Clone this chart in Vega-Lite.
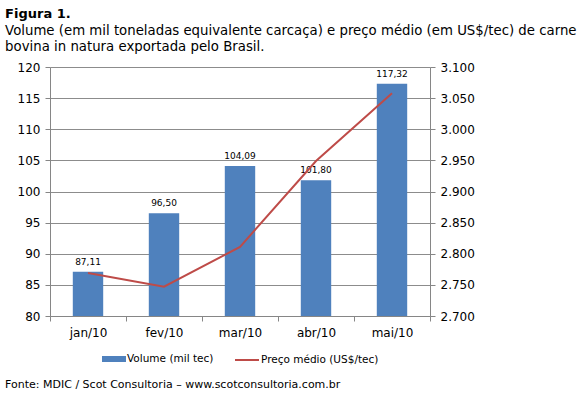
{
  "$schema": "https://vega.github.io/schema/vega-lite/v6.json",
  "padding": {"left": 5, "top": 7, "right": 2, "bottom": 4},
  "background": "white",
  "config": {
    "locale": {"number": {"decimal": ",", "thousands": ".", "grouping": [3], "currency": ["R$", ""]}},
    "font": "DejaVu Sans",
    "view": {"stroke": null},
    "legend": {"layout": {"bottom": {"anchor": "middle", "margin": 20}}}
  },
  "title": {
    "text": "Fonte: MDIC / Scot Consultoria – www.scotconsultoria.com.br",
    "orient": "bottom", "anchor": "start", "font": "DejaVu Sans", "fontSize": 11, "fontWeight": "normal", "color": "black", "offset": 13
  },
  "vconcat": [
    {
      "width": 380,
      "height": 249,
      "title": {
        "text": "Figura 1.",
        "subtitle": ["Volume (em mil toneladas equivalente carcaça) e preço médio (em US$/tec) de carne", "bovina in natura exportada pelo Brasil."],
        "anchor": "start", "font": "DejaVu Sans", "fontSize": 13, "fontWeight": "bold", "color": "black", "dx": -12,
        "subtitleFont": "DejaVu Sans", "subtitleFontSize": 13.3, "subtitleColor": "black", "subtitleLineHeight": 16, "subtitlePadding": 3, "offset": 8
      },
      "data": {"values": [
        {"mes": "jan/10", "volume": 87.11, "preco": 2769},
        {"mes": "fev/10", "volume": 96.50, "preco": 2747},
        {"mes": "mar/10", "volume": 104.09, "preco": 2811},
        {"mes": "abr/10", "volume": 101.80, "preco": 2949},
        {"mes": "mai/10", "volume": 117.32, "preco": 3058}
      ]},
      "encoding": {
        "x": {"field": "mes", "type": "ordinal", "sort": null, "title": null,
          "scale": {"paddingInner": 0, "paddingOuter": 0},
          "axis": {"labelAngle": 0, "labelFontSize": 12, "labelColor": "black", "labelPadding": 6, "domainColor": "#868686", "tickColor": "#868686", "tickBand": "extent", "tickSize": 5, "grid": false}}
      },
      "layer": [
        {
          "layer": [
            {
              "mark": {"type": "bar", "width": {"band": 0.4}, "color": "#4F81BD"},
              "encoding": {
                "y": {"field": "volume", "type": "quantitative", "title": null,
                  "scale": {"domain": [80, 120], "zero": false, "nice": false},
                  "axis": {"values": [80, 85, 90, 95, 100, 105, 110, 115, 120], "format": "d", "labelFontSize": 12, "labelColor": "black", "labelPadding": 5, "domain": true, "domainColor": "#868686", "tickColor": "#868686", "tickSize": 5, "grid": true, "gridColor": "#8c8c8c", "gridWidth": 1}},
                "y2": {"datum": 80},
                "fill": {"datum": "Volume (mil tec)", "scale": {"range": ["#4F81BD"]},
                  "legend": {"title": null, "orient": "bottom", "offset": 9, "symbolType": "M-1,-0.25H1V0.25H-1Z", "symbolSize": 576, "symbolStrokeWidth": 0, "labelFontSize": 10.5, "labelColor": "black", "labelOffset": 1, "labelLimit": 300}}
              }
            },
            {
              "mark": {"type": "text", "baseline": "bottom", "dy": -5, "fontSize": 9, "color": "black"},
              "encoding": {
                "y": {"field": "volume", "type": "quantitative",
                  "axis": {"values": [80, 85, 90, 95, 100, 105, 110, 115, 120], "format": "d", "labelFontSize": 12, "labelColor": "black", "labelPadding": 5, "domain": true, "domainColor": "#868686", "tickColor": "#868686", "tickSize": 5, "grid": true, "gridColor": "#8c8c8c", "gridWidth": 1}},
                "text": {"field": "volume", "type": "quantitative", "format": ".2f"}
              }
            }
          ]
        },
        {
          "mark": {"type": "line", "strokeWidth": 2, "color": "#BE4B48"},
          "encoding": {
            "y": {"field": "preco", "type": "quantitative", "title": null,
              "scale": {"domain": [2700, 3100], "zero": false, "nice": false},
              "axis": {"orient": "right", "values": [2700, 2750, 2800, 2850, 2900, 2950, 3000, 3050, 3100], "format": ",d", "labelFontSize": 12, "labelColor": "black", "labelPadding": 5, "domainColor": "#868686", "tickColor": "#868686", "tickSize": 5, "grid": false}},
            "stroke": {"datum": "Preço médio (US$/tec)", "scale": {"range": ["#BE4B48"]},
              "legend": {"title": null, "orient": "bottom", "offset": 9, "symbolType": "stroke", "symbolSize": 576, "symbolStrokeWidth": 2, "labelFontSize": 10.5, "labelColor": "black", "labelOffset": 1, "labelLimit": 300}}
          }
        }
      ],
      "resolve": {"scale": {"y": "independent"}}
    }
  ]
}
